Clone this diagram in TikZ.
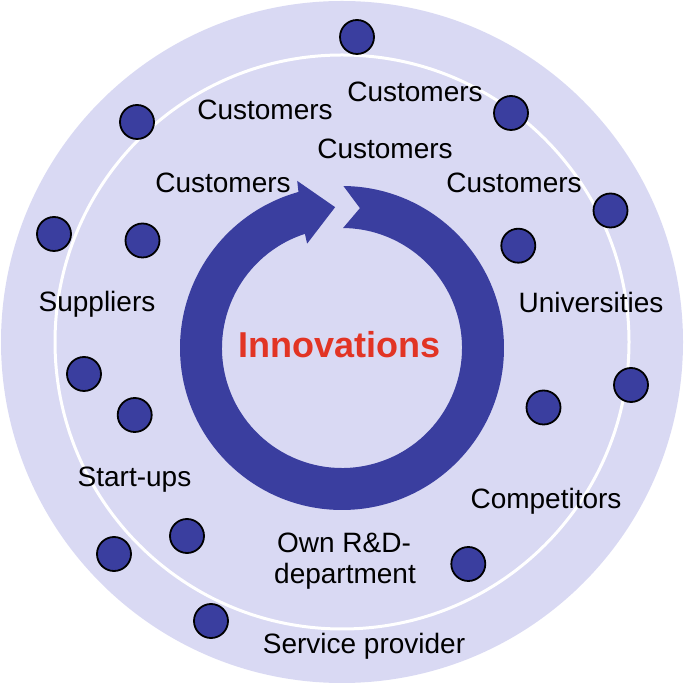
\documentclass[tikz,border=0pt]{standalone}
\usepackage{fontspec}
\setmainfont{Liberation Sans}
\definecolor{lav}{RGB}{217,217,243}
\definecolor{navy}{RGB}{58,62,159}
\definecolor{innored}{RGB}{226,52,36}
\begin{document}
\begin{tikzpicture}[x=1pt,y=1pt,
  dot/.style={circle, draw=black, line width=1.8pt, fill=navy, minimum size=34pt, inner sep=0pt},
  lbl/.style={anchor=base, font=\fontsize{28}{30}\selectfont, text=black, inner sep=0pt}]
\useasboundingbox (0,0) rectangle (685,685);
% background disc and white ring
\fill[lav] (342,343) circle[radius=341pt];
\draw[white, line width=3pt] (342,343) circle[radius=287pt];
% circular arrow
\begin{scope}[shift={(342,337)}]
\fill[navy] (89.5:162pt) arc[start angle=89.5, end angle=-254.4, radius=162pt]
  -- (105:173pt) -- (92.8:141pt) -- (108.5:110pt) -- (108:120pt)
  arc[start angle=-252, end angle=89.5, radius=120pt]
  -- (82.7:141pt) -- cycle;
\end{scope}
% dots
\node[dot] (d1) at (357,648) {};
\node[dot] (d2) at (137,563) {};
\node[dot] (d3) at (511,572) {};
\node[dot] (d4) at (610.5,474.5) {};
\node[dot] (d5) at (54,451) {};
\node[dot] (d6) at (142.5,444.5) {};
\node[dot] (d7) at (518.3,439.3) {};
\node[dot] (d8) at (84,311) {};
\node[dot] (d9) at (631,300) {};
\node[dot] (d10) at (134.7,270) {};
\node[dot] (d11) at (543.5,277.5) {};
\node[dot] (d12) at (187,149) {};
\node[dot] (d13) at (114,131) {};
\node[dot] (d14) at (468.3,121) {};
\node[dot] (d15) at (211,64) {};
% labels
\node[lbl] (c1) at (265,565) {Customers};
\node[lbl] (c2) at (415,583.3) {Customers};
\node[lbl] (c3) at (385,526.5) {Customers};
\node[lbl] (c4) at (223,492.3) {Customers};
\node[lbl] (c5) at (514,492.3) {Customers};
\node[lbl] (sup) at (97,373.3) {Suppliers};
\node[lbl] (uni) at (591,372.3) {Universities};
\node[lbl] (st) at (134.5,198.3) {Start-ups};
\node[lbl] (comp) at (546,176.7) {Competitors};
\node[lbl] (own) at (344,132) {Own R\&D-};
\node[lbl] (dept) at (345,101) {department};
\node[lbl] (serv) at (364,31) {Service provider};
\node[anchor=base, inner sep=0pt, text=innored, font=\fontsize{36}{40}\selectfont\bfseries] (inno) at (339.5,327.7) {Innovations};
\end{tikzpicture}
\end{document}
